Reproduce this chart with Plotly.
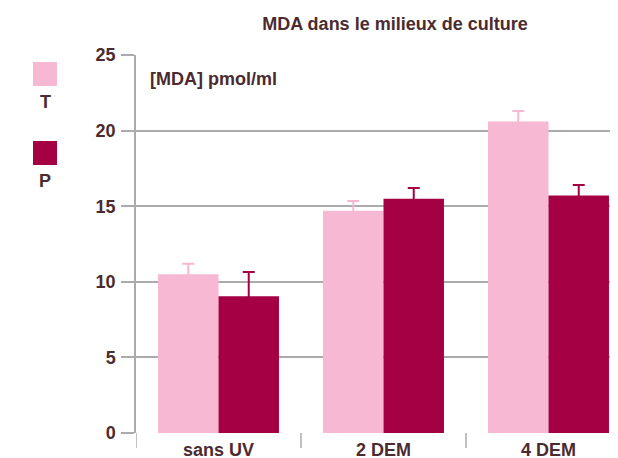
import plotly.graph_objects as go

categories = ["sans UV", "2 DEM", "4 DEM"]
series_names = ["T", "P"]
t_values = [10.5, 14.7, 20.6]
t_errors = [0.7, 0.65, 0.7]
p_values = [9.05, 15.5, 15.7]
p_errors = [1.6, 0.7, 0.7]
y_ticks = [0, 5, 10, 15, 20, 25]

PINK = "#F6B8D3"
DARK = "#A50044"
TXT = "#4B2B2F"
GRID = "#ABABAE"
FONT = "Liberation Sans"

OFF = 8  # page body margin
W, H = 618 - OFF, 458 - OFF
L, R, T, B = 136 - OFF, 0, 55 - OFF, 25
pw, ph = W - L - R, H - T - B

def px(x):
    return (x - OFF - L) / pw

def py(y):
    return (H - B - (y - OFF)) / ph

fig = go.Figure()
for name, vals, errs, col in [(series_names[0], t_values, t_errors, PINK),
                              (series_names[1], p_values, p_errors, DARK)]:
    fig.add_trace(go.Bar(
        x=categories, y=vals, name=name, marker_color=col, marker_line_width=0,
        error_y=dict(type="data", array=errs, symmetric=True,
                     color=col, thickness=2, width=6),
        showlegend=False))

shapes = []
for xb in [-0.5, 0.5, 1.5]:
    shapes.append(dict(type="line", xref="x", yref="paper", x0=xb, x1=xb,
                       y0=0, y1=-15 / ph, line=dict(color=GRID, width=1.5)))
annotations = []
for i, (name, col) in enumerate(zip(series_names, [PINK, DARK])):
    top = 62 + i * 79
    shapes.append(dict(type="rect", xref="paper", yref="paper",
                       x0=px(33), x1=px(57), y0=py(top + 24), y1=py(top),
                       fillcolor=col, line_width=0))
    annotations.append(dict(text=name, xref="paper", yref="paper",
                            x=px(45), y=py(top + 40), showarrow=False,
                            xanchor="center", yanchor="middle",
                            font=dict(family=FONT, size=18, color=TXT, weight="bold")))

annotations.append(dict(text="[MDA] pmol/ml", xref="paper", yref="paper",
                        x=px(148), y=py(79), showarrow=False, xanchor="left",
                        yanchor="middle", font=dict(family=FONT, size=18, color=TXT, weight="bold")))

fig.update_layout(
    width=W, height=H,
    margin=dict(l=L, r=R, t=T, b=B, autoexpand=False),
    paper_bgcolor="white", plot_bgcolor="white",
    barmode="group", bargap=0.267, bargroupgap=0,
    title=dict(text="MDA dans le milieux de culture", x=(395 - OFF) / W, xref="container",
               xanchor="center", y=1 - (24 - OFF) / H, yanchor="middle",
               font=dict(family=FONT, size=18, color=TXT, weight="bold")),
    font=dict(family=FONT, color=TXT),
    shapes=shapes, annotations=annotations,
    xaxis=dict(range=[-0.5, 2.5 - 13 / 165], showline=False, ticks="",
               showgrid=False, zeroline=False,
               tickfont=dict(family=FONT, size=18, color=TXT, weight="bold"),
               ticklabelstandoff=4, automargin=False),
    yaxis=dict(range=[0, 25], tickvals=y_ticks, showgrid=True, gridcolor=GRID, gridwidth=1.5,
               zeroline=False, showline=True, linecolor=GRID, linewidth=1.5,
               ticks="outside", ticklen=13, tickcolor=GRID, tickwidth=1.5,
               tickfont=dict(family=FONT, size=18, color=TXT, weight="bold"),
               ticklabelstandoff=2, automargin=False),
)

fig.write_html("out.html")
